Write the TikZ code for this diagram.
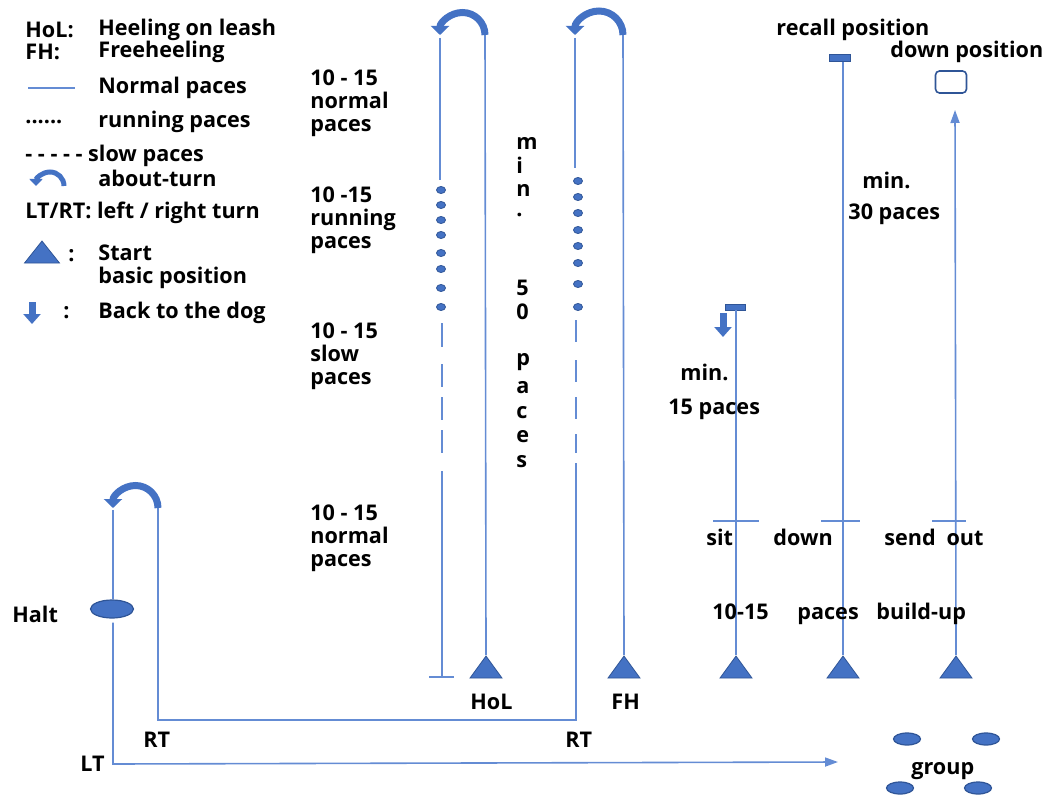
\documentclass[tikz,border=0pt]{standalone}
\usepackage{fontspec}
\setmainfont{Open Sans}
\usetikzlibrary{positioning,shapes,arrows.meta}

\definecolor{pacecol}{RGB}{100,140,212}
\definecolor{markfill}{RGB}{68,114,196}
\definecolor{markline}{RGB}{47,85,151}

\begin{document}
\begin{tikzpicture}
  [x=0.5pt,y=-0.5pt,
   lbl/.style={anchor=west, inner sep=0pt, align=left, font=\bfseries\fontsize{10.8}{11.5}\selectfont},
   pace/.style={draw=pacecol, line width=0.8pt},
   paceto/.style={pace, -{Triangle[width=4.5pt,length=6.5pt]}},
   slowpace/.style={pace, dash pattern=on 11.5pt off 5pt},
   rundot/.style={ellipse, fill=markfill, draw=markline, line width=0.4pt, inner sep=0pt, minimum width=4.5pt, minimum height=3.5pt},
   start/.style={isosceles triangle, isosceles triangle stretches, shape border rotate=90, fill=markfill, draw=markline, line width=0.4pt, inner sep=0pt, minimum width=16pt, minimum height=11pt},
   bar/.style={rectangle, fill=markfill, draw=markline, line width=0.4pt, inner sep=0pt, minimum width=10.5pt, minimum height=3.5pt},
   blob/.style={ellipse, fill=markfill, draw=markline, line width=0.6pt, inner sep=0pt, minimum width=13.5pt, minimum height=6pt},
   turn/.style={draw=markfill, line width=3.5pt, -{Triangle[width=9pt,length=4.5pt]}},
   backarrow/.style={draw=markfill, line width=3.5pt, -{Triangle[width=8.5pt,length=5pt]}}]
  \useasboundingbox (0,0) rectangle (1047,796);

  % legend
  \node[lbl] (kh) at (25,30) {HoL:};
  \node[lbl] (khd) at (98,30) {Heeling on leash};
  \node[lbl] (kf) at (25,52) {FH:};
  \node[lbl] (kfd) at (98,52) {Freeheeling};
  \draw[pace] (28,88) -- (75,88);
  \node[lbl] (kn) at (98,88) {Normal paces};
  \node[lbl] (kr) at (25,122) {......};
  \node[lbl] (krd) at (98,122) {running paces};
  \node[lbl] (ks) at (25,156) {- - - - - slow paces};
  \draw[turn, line width=2.5pt, -{Triangle[width=6.5pt,length=3.5pt]}] (64,186) arc[start angle=0, end angle=-180, radius=14];
  \node[lbl] (ka) at (98,178) {about-turn};
  \node[lbl] (kt) at (25,213) {LT/RT: left / right turn};
  \node[start, anchor=apex, minimum width=17.5pt] (kstart) at (42,240) {};
  \node[lbl] (kc1) at (68,256) {:};
  \node[lbl] (kst) at (98,267) {Start\\basic position};
  \draw[backarrow] (32,302) -- (32,324);
  \node[lbl] (kc2) at (63,313) {:};
  \node[lbl] (kb) at (98,313) {Back to the dog};

  % pace labels
  \node[lbl] (p1) at (310,103) {10 - 15\\normal\\paces};
  \node[lbl] (p2) at (310,220) {10 -15\\running\\paces};
  \node[lbl] (p3) at (310,356) {10 - 15\\slow\\paces};
  \node[lbl] (p4) at (310,538) {10 - 15\\normal\\paces};
  \foreach \ch/\y [count=\i] in {m/143, i/165, n/190, ./215, 5/288, 0/312, p/362, a/388, c/413, e/437, s/462}
    \node[lbl] (v\i) at (516,\y) {\ch};

  % HoL
  \node[start, anchor=apex] (hol) at (486,655) {};
  \node[lbl] (tHoL) at (470,702) {HoL};
  \coordinate (holtop) at (485,35);
  \draw[pace] (hol.apex) -- (holtop);
  \draw[turn] (holtop) arc[start angle=0, end angle=-180, radius=22.5];
  \coordinate (hl1) at (440,38);
  \coordinate (hl2) at (440,180);
  \coordinate (hl3) at (442,323);
  \coordinate (hl4) at (442,347);
  \coordinate (hl5) at (442,364);
  \coordinate (hl6) at (442,453);
  \coordinate (hl7) at (442,471);
  \coordinate (hl8) at (442,677);
  \draw[pace] (hl1) -- (hl2);
  \foreach \y in {190,205,220,235,253,269,288,307}
    \node[rundot] at (441,\y) {};
  \draw[pace] (hl3) -- (hl4);
  \draw[slowpace] (hl5) -- (hl6);
  \draw[pace] (hl7) -- (hl8);
  \draw[pace] ([xshift=-6.5pt]hl8) -- ([xshift=6pt]hl8);

  % FH
  \node[start, anchor=apex] (fh) at (624,655) {};
  \node[lbl] (tFH) at (611,702) {FH};
  \coordinate (fhtop) at (623,35);
  \draw[pace] (fh.apex) -- (fhtop);
  \draw[turn] (fhtop) arc[start angle=0, end angle=-180, radius=24];
  \coordinate (fl1) at (575,38);
  \coordinate (fl2) at (575,168);
  \coordinate (fl3) at (576,320);
  \coordinate (fl4) at (576,342);
  \coordinate (fl5) at (576,360);
  \coordinate (fl6) at (576,453);
  \coordinate (fl7) at (576,463);
  \coordinate (fbot) at (576,720);
  \coordinate (rtc) at (158,720);
  \coordinate (ltop) at (158,508);
  \draw[pace] (fl1) -- (fl2);
  \foreach \y in {181,197,213,230,246,263,284,307}
    \node[rundot] at (578,\y) {};
  \draw[pace] (fl3) -- (fl4);
  \draw[pace, dash pattern=on 11pt off 7.5pt] (fl5) -- (fl6);
  \draw[pace] (fl7) -- (fbot) -- (rtc) -- (ltop);
  \node[lbl] (tRT2) at (565,740) {RT};
  \node[lbl] (tRT1) at (143,740) {RT};

  % start, halt, left turn
  \draw[turn] (ltop) arc[start angle=0, end angle=-180, radius=22.5];
  \coordinate (lturn) at (113,510);
  \node[blob, minimum width=21.5pt, minimum height=9pt] (halt) at (112,609) {};
  \node[lbl] (tHalt) at (12,614) {Halt};
  \coordinate (ltc) at (113,764);
  \coordinate (ltend) at (838,762);
  \draw[pace] (lturn) -- (lturn |- halt.north);
  \draw[paceto] ([yshift=-2pt]lturn |- halt.south) -- (ltc) -- (ltend);
  \node[lbl] (tLT) at (80,764) {LT};

  % sit
  \node[start, anchor=apex] (sit) at (736,655) {};
  \node[bar, minimum width=10pt, minimum height=3pt] (sitbar) at (735,307) {};
  \draw[pace] (sit.apex) -- (sit.apex |- sitbar.south);
  \draw[backarrow] (723,313) -- (723,337);
  \node[lbl] (tmin1) at (680,372) {min.};
  \node[lbl, anchor=base west] (t15) at (668,414) {15 paces};
  \draw[pace] (713,521) -- (759,521);
  \node[lbl] (tsit) at (706,537) {sit};

  % down
  \node[start, anchor=apex] (downtri) at (843,655) {};
  \node[bar] (recall) at (840,58) {};
  \node[lbl] (trecall) at (776,30) {recall position};
  \draw[pace] (downtri.apex) -- (downtri.apex |- recall.south);
  \node[lbl] (tmin2) at (862,180) {min.};
  \node[lbl, anchor=base west] (t30) at (848,220) {30 paces};
  \draw[pace] (821,521) -- (860,521);
  \node[lbl] (tdown) at (773,537) {down};

  % send out
  \node[start, anchor=apex] (send) at (956,655) {};
  \node[draw=markline, line width=0.8pt, rounded corners=2pt, inner sep=0pt, minimum width=15.5pt, minimum height=11pt] (downpos) at (951,82) {};
  \node[lbl] (tdownpos) at (890,52) {down position};
  \coordinate (sendtip) at (955,110);
  \draw[paceto] (send.apex) -- (sendtip);
  \draw[pace] (932,521) -- (966,521);
  \node[lbl] (tsend) at (884,537) {send\enspace out};

  \node[lbl, anchor=base west] (tb1) at (712,619) {10-15};
  \node[lbl, anchor=base west] (tb2) at (797,619) {paces};
  \node[lbl, anchor=base west] (tb3) at (876,619) {build-up};

  % group
  \foreach \n/\x/\y in {g1/907/739, g2/986/739, g3/900/788, g4/978/788}
    \node[blob] (\n) at (\x,\y) {};
  \node[lbl] (tgroup) at (911,771) {group};
\end{tikzpicture}
\end{document}
